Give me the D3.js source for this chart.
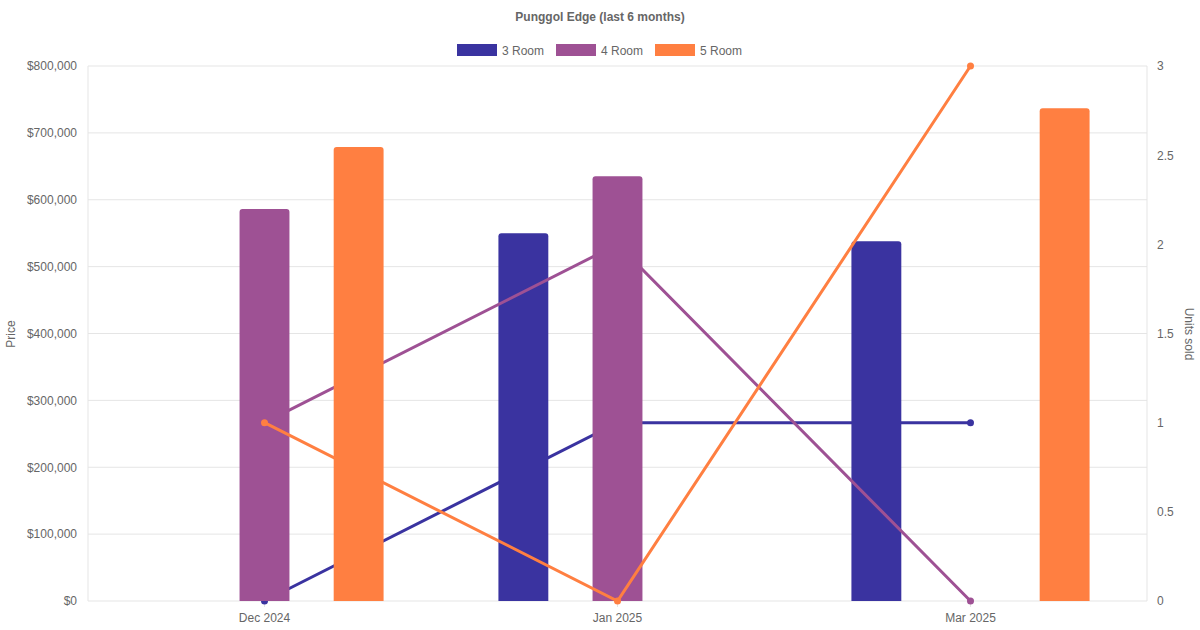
<!DOCTYPE html><html><head><meta charset="utf-8">
<script src="https://cdn.jsdelivr.net/npm/d3@7"></script>
<style>body{margin:0;background:#fff}svg{font-family:"Liberation Sans",Arial,sans-serif}</style>
</head><body><svg id="c" width="1200" height="630"></svg>
<script>
const categories=["Dec 2024","Jan 2025","Mar 2025"];
const seriesNames=["3 Room","4 Room","5 Room"];
const colors=["#3a33a0","#9e5194","#ff7f41"];
const price3=[null,550000,538000];
const price4=[586000,635000,null];
const price5=[679000,null,737000];
const units3=[0,1,1];
const units4=[1,2,0];
const units5=[1,0,3];
const priceTicks=[0,100000,200000,300000,400000,500000,600000,700000,800000];
const unitTicks=[0,0.5,1,1.5,2,2.5,3];
const prices=[price3,price4,price5], units=[units3,units4,units5];

const svg=d3.select("#c");
const L=88,R=1147,T=66,B=601;
const x=d3.scaleBand().domain(categories).range([L,R]);
const xs=d3.scaleBand().domain(seriesNames).range([0,x.bandwidth()*0.8]);
const y=d3.scaleLinear().domain([0,800000]).range([B,T]);
const y2=d3.scaleLinear().domain([0,3]).range([B,T]);
const g=svg.append("g");
priceTicks.forEach(t=>g.append("line").attr("x1",L).attr("x2",R).attr("y1",y(t)).attr("y2",y(t)).attr("stroke","#e5e5e5"));
[L,R].forEach(v=>g.append("line").attr("x1",v).attr("x2",v).attr("y1",T).attr("y2",B).attr("stroke","#e5e5e5"));
categories.forEach(c=>{const cx=x(c)+x.bandwidth()/2;g.append("line").attr("x1",cx).attr("x2",cx).attr("y1",B).attr("y2",B+6).attr("stroke","#e5e5e5");});
const fmt=d=>"$"+d3.format(",")(d);
const ya=svg.append("g").attr("transform",`translate(${L},0)`).call(d3.axisLeft(y).tickValues(priceTicks).tickFormat(fmt).tickSize(0).tickPadding(11));
const yb=svg.append("g").attr("transform",`translate(${R},0)`).call(d3.axisRight(y2).tickValues(unitTicks).tickFormat(d3.format("")).tickSize(0).tickPadding(10));
const xa=svg.append("g").attr("transform",`translate(0,${B})`).call(d3.axisBottom(x).tickSize(0).tickPadding(12));
[ya,yb,xa].forEach(a=>{a.select(".domain").remove();a.selectAll("text").attr("fill","#666").style("font-size","12px").style("font-family","Liberation Sans, Arial");});
const bw=xs.bandwidth()*0.53;
const lineGen=d3.line().x((d,i)=>x(categories[i])+x.bandwidth()/2).y(d=>y2(d));
seriesNames.forEach((s,k)=>{
  const lg=svg.append("g");
  lg.append("path").attr("d",lineGen(units[k])).attr("fill","none").attr("stroke",colors[k]).attr("stroke-width",3);
  units[k].forEach((d,i)=>lg.append("circle").attr("cx",x(categories[i])+x.bandwidth()/2).attr("cy",y2(d)).attr("r",3.5).attr("fill",colors[k]));
  prices[k].forEach((v,i)=>{ if(v==null)return;
    const bx=x(categories[i])+x.bandwidth()*0.1+xs(s)+(xs.bandwidth()-bw)/2, by=y(v), h=B-by, r=3;
    svg.append("path").attr("fill",colors[k]).attr("d",`M${bx},${B}V${by+r}Q${bx},${by} ${bx+r},${by}H${bx+bw-r}Q${bx+bw},${by} ${bx+bw},${by+r}V${B}Z`);
  });
});
svg.append("text").attr("x",600).attr("y",21).attr("text-anchor","middle").attr("fill","#666").style("font-size","12px").style("font-weight","bold").text("Punggol Edge (last 6 months)");
const legX=[457,556,655];
seriesNames.forEach((s,k)=>{svg.append("rect").attr("x",legX[k]).attr("y",44).attr("width",40).attr("height",12).attr("fill",colors[k]);
 svg.append("text").attr("x",legX[k]+45).attr("y",54.5).attr("fill","#666").style("font-size","12px").text(s);});
svg.append("text").attr("transform","translate(15,334) rotate(-90)").attr("text-anchor","middle").attr("fill","#666").style("font-size","12px").text("Price");
svg.append("text").attr("transform","translate(1185,334) rotate(90)").attr("text-anchor","middle").attr("fill","#666").style("font-size","12px").text("Units sold");
</script></body></html>
